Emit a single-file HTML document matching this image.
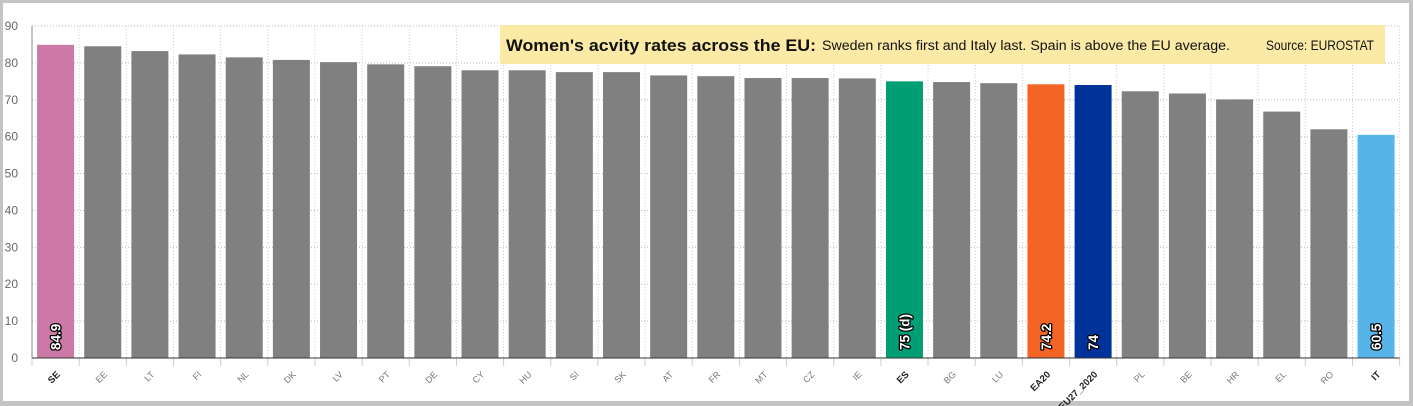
<!DOCTYPE html>
<html><head><meta charset="utf-8"><style>
body{margin:0;background:#fff;}
svg{display:block;font-family:"Liberation Sans",sans-serif;}
</style></head><body>
<svg id="chart" width="1413" height="406" viewBox="0 0 1413 406">
<rect x="0" y="0" width="1413" height="406" fill="#c4c4c4"/>
<rect x="3" y="3" width="1406" height="398" fill="#ffffff"/>
<g id="grid"></g>
<g id="bars"></g>
<g id="axes"></g>
<g>
<rect x="500" y="25" width="885" height="39" fill="#fbe9a6"/>
<text x="506" y="51" font-size="17" font-weight="bold" fill="#111" textLength="310" lengthAdjust="spacingAndGlyphs">Women's acvity rates across the EU:</text>
<text x="822" y="50" font-size="13.5" fill="#111" textLength="408" lengthAdjust="spacingAndGlyphs">Sweden ranks first and Italy last. Spain is above the EU average.</text>
<text x="1266" y="50" font-size="13.5" fill="#111" textLength="108" lengthAdjust="spacingAndGlyphs">Source: EUROSTAT</text>
</g>
</svg>
<script>
const categories=["SE","EE","LT","FI","NL","DK","LV","PT","DE","CY","HU","SI","SK","AT","FR","MT","CZ","IE","ES","BG","LU","EA20","EU27_2020","PL","BE","HR","EL","RO","IT"];
const values=[84.9,84.5,83.2,82.3,81.5,80.8,80.2,79.6,79.1,78.0,78.0,77.5,77.5,76.6,76.4,75.9,75.9,75.8,75,74.8,74.5,74.2,74,72.3,71.7,70.1,66.8,62.0,60.5];
const valueLabels={"SE":"84.9","ES":"75 (d)","EA20":"74.2","EU27_2020":"74","IT":"60.5"};
const highlightColors={"SE":"#cc79a7","ES":"#009e73","EA20":"#f46424","EU27_2020":"#003399","IT":"#56b4e9"};
const yTicks=[0,10,20,30,40,50,60,70,80,90];

const NS="http://www.w3.org/2000/svg";
const x0=32,band=47.16,y0=358,yTop=26,yMax=90,barW=37;
const xPos=i=>x0+band*i;
const yPos=v=>y0-(v/yMax)*(y0-yTop);
const xRight=xPos(categories.length);
function mk(tag,attrs,parent){const e=document.createElementNS(NS,tag);for(const k in attrs)e.setAttribute(k,attrs[k]);parent.appendChild(e);return e;}
const grid=document.getElementById('grid'),bars=document.getElementById('bars'),axes=document.getElementById('axes');

yTicks.forEach(t=>{
  if(t>0){const l=mk('line',{x1:x0,x2:xRight,y1:yPos(t),y2:yPos(t),stroke:'#bbb','stroke-dasharray':'1,2'},grid);
  
  }
  const tx=mk('text',{x:18,y:yPos(t)+4,'font-size':12,fill:'#666','text-anchor':'end'},axes);
  tx.textContent=t;
  
  
});
for(let i=1;i<=categories.length;i++){
  const l=mk('line',{x1:xPos(i),x2:xPos(i),y1:yTop,y2:y0,stroke:'#ccc','stroke-dasharray':'1,2'},grid);
  
  
}
categories.forEach((c,i)=>{
  const cx=xPos(i)+band/2, v=values[i];
  const r=mk('rect',{x:cx-barW/2,y:yPos(v),width:barW,height:y0-yPos(v),fill:highlightColors[c]||'#808080'},bars);
  
  
  if(valueLabels[c]){
    const t=mk('text',{transform:`translate(${cx+5},${y0-8}) rotate(-90)`,'font-size':13.5,'font-weight':'bold',fill:'#fff',stroke:'#000','stroke-width':2.5,'paint-order':'stroke','stroke-linejoin':'round'},bars);
    t.textContent=valueLabels[c];
    
    
  }
  const hl=!!highlightColors[c];
  const t=mk('text',{transform:`translate(${cx+5},${y0+17}) rotate(-45)`,'font-size':hl?9.5:9,'font-weight':hl?'bold':'normal',fill:hl?'#222':'#777','text-anchor':'end'},axes);
  t.textContent=c;
  
  
});
for(let i=0;i<=categories.length;i++){
  const l=mk('line',{x1:xPos(i),x2:xPos(i),y1:y0,y2:y0+8,stroke:'#ccc'},axes);
  
  
}
const ya=mk('line',{x1:x0,x2:x0,y1:yTop,y2:y0,stroke:'#888','stroke-width':1},axes);


const xa=mk('line',{x1:x0,x2:xRight,y1:y0,y2:y0,stroke:'#333','stroke-width':1},axes);


</script>
</body></html>
